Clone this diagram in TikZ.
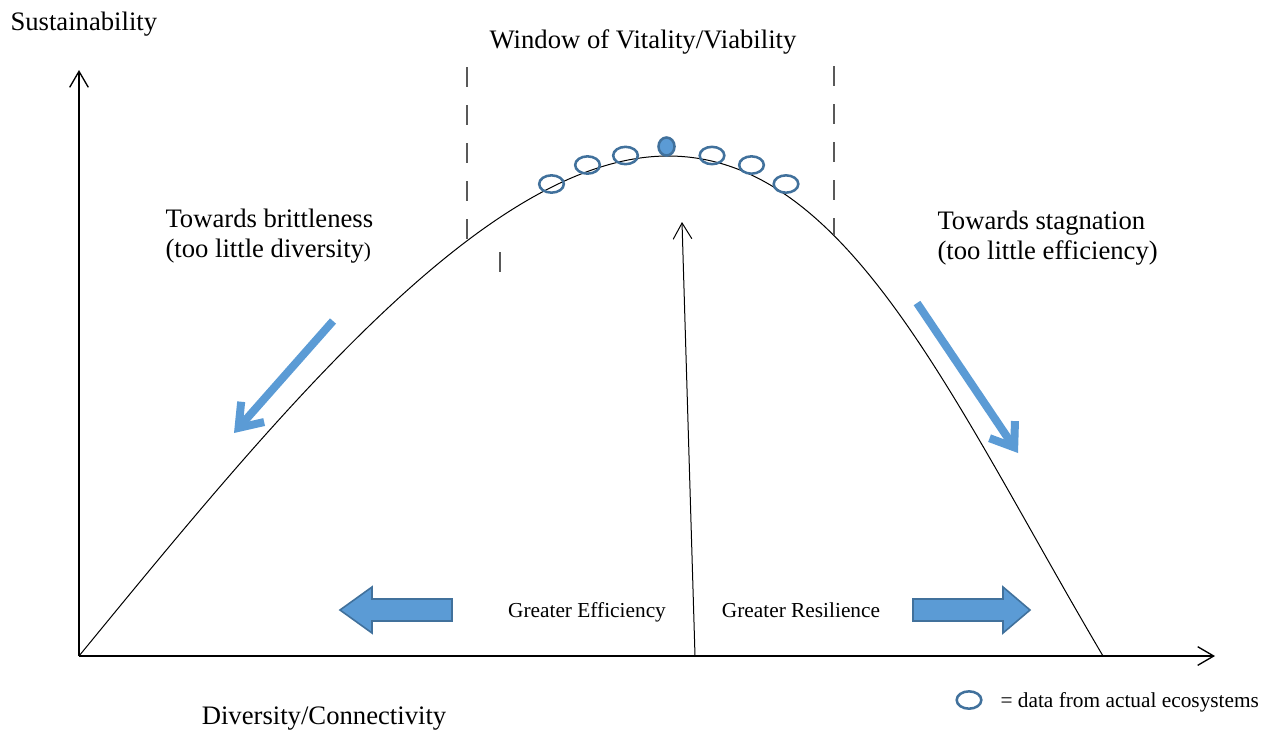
\documentclass[tikz,border=0pt]{standalone}
\usepackage{fontspec}
\setmainfont{Liberation Serif}
\usetikzlibrary{arrows.meta,shapes.geometric}

\definecolor{ecoblue}{RGB}{91,155,213}
\definecolor{ecoline}{RGB}{65,113,156}
\definecolor{windowgray}{RGB}{89,89,89}

\tikzset{every picture/.style={line width=0.75pt}}
\tikzset{
  datapt/.style={ellipse, draw=ecoline, line width=1.9pt, minimum width=18.5pt, minimum height=13pt, inner sep=0pt},
  axisarrow/.style={-{Straight Barb[length=12pt,width=14pt]}, line width=1pt},
  trendarrow/.style={draw=ecoblue, line width=6pt, -{Straight Barb[length=16pt,width=23pt]}},
  blockarrow/.style={fill=ecoblue, draw=ecoline, line width=1.2pt},
  windowline/.style={draw=windowgray, line width=1.5pt, dash pattern={on 15pt off 13.5pt}},
  bigtext/.style={font=\fontsize{20}{23}\selectfont, inner sep=0pt},
  smalltext/.style={font=\fontsize{16}{19}\selectfont, inner sep=0pt}
}

\begin{document}
\begin{tikzpicture}[x=0.75pt,y=0.75pt,yscale=-1,xscale=1]
\useasboundingbox (0,0) rectangle (1276,733);

%Coordinates: axes and arrows
\coordinate (O) at (79,656);
\coordinate (ymax) at (79,70);
\coordinate (xmax) at (1215,656);
\coordinate (peakbase) at (695,656);
\coordinate (peaktip) at (682,222);
\coordinate (brittle1) at (333,321);
\coordinate (brittle2) at (234,433);
\coordinate (stag1) at (917,303);
\coordinate (stag2) at (1018,453);

%Straight Lines: axes
\draw [axisarrow] (O) -- (ymax);
\draw [axisarrow] (O) -- (xmax);

%Curve: sustainability
\draw (O) .. controls (279,412) and (488,156) .. (668,156) .. controls (848,156) and (953,402) .. (1103,656);

%Straight Lines: window of vitality
\draw [windowline] (467,67) -- (467,240);
\draw [windowline] (834,66) -- (834,235);
\draw [windowline] (500,252) -- (500,272);

%Straight Lines: arrow to the peak
\draw [axisarrow, line width=0.75pt] (peakbase) -- (peaktip);

%Straight Lines: trends
\draw [trendarrow] (brittle1) -- (brittle2);
\draw [trendarrow] (stag1) -- (stag2);

%Shape: Left Arrow
\draw [blockarrow] (452,599) -- (372,599) -- (372,587) -- (340,610) -- (372,633) -- (372,621) -- (452,621) -- cycle ;
%Shape: Right Arrow
\draw [blockarrow] (913,599) -- (1003,599) -- (1003,587) -- (1030,610) -- (1003,633) -- (1003,621) -- (913,621) -- cycle ;

%Shape: Ellipses (data)
\node [datapt] (d1) at (551.5,184) {};
\node [datapt] (d2) at (587.5,165) {};
\node [datapt] (d3) at (625.5,155.5) {};
\node [datapt, fill=ecoblue, minimum width=12pt, minimum height=13.5pt] (dpeak) at (666.5,146.5) {};
\node [datapt] (d4) at (712,155.5) {};
\node [datapt] (d5) at (751.5,165) {};
\node [datapt] (d6) at (786,184) {};
\node [datapt] (dlegend) at (969,700) {};

% Text Node
\draw (10,24) node (ylabel) [bigtext, anchor=west] {Sustainability};
% Text Node
\draw (643,42) node (window) [bigtext] {Window of Vitality/Viability};
% Text Node
\draw (165,236) node (brittle) [bigtext, anchor=west] [align=left] {Towards brittleness\\(too little diversity{\fontsize{16}{19}\selectfont )}};
% Text Node
\draw (937,238) node (stag) [bigtext, anchor=west] [align=left] {Towards stagnation\\(too little efficiency)};
% Text Node
\draw (587,617) node (effic) [smalltext, anchor=base] {Greater Efficiency};
% Text Node
\draw (801,617) node (resil) [smalltext, anchor=base] {Greater Resilience};
% Text Node
\draw (324,719) node (xlabel) [bigtext] {Diversity/Connectivity};
% Text Node
\draw (1000,702) node (legend) [smalltext, anchor=west] {= data from actual ecosystems};

\end{tikzpicture}
\end{document}
